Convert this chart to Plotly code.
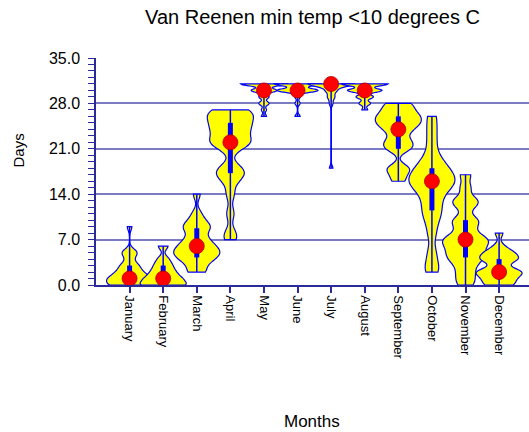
import numpy as np
import plotly.graph_objects as go

months = ["January", "February", "March", "April", "May", "June", "July",
          "August", "September", "October", "November", "December"]

jan = [0, 0, 0, 0, 0, 0, 0, 1, 1, 1, 1, 1, 1, 1, 2, 2, 2, 2, 3, 3, 3, 4, 5, 5, 5, 9]
feb = [0, 0, 0, 0, 0, 0, 0, 0, 1, 1, 1, 1, 1, 1, 2, 2, 2, 2, 3, 3, 3, 4, 4, 6, 6]
mar = [2, 2, 3, 4, 4, 4, 5, 5, 5, 5, 6, 6, 6, 7, 7, 8, 9, 9, 9, 10, 11, 14]
apr = [7, 8, 11, 14, 16, 17, 17, 18, 18, 21, 22, 22, 22, 22, 23, 24, 24, 24, 25, 25,
       26, 26, 26, 27, 27, 27]
may = [26, 27, 28, 28, 29, 29, 30, 30, 30, 30, 30, 31, 31, 31, 31, 31, 31, 31, 31, 31]
jun = [26, 28, 29, 30, 30, 30, 30, 30, 30, 30, 30, 31, 31, 31, 31, 31, 31, 31, 31, 31]
jul = [18, 28, 29, 29, 30, 30, 30, 31, 31, 31, 31, 31, 31, 31, 31, 31, 31, 31, 31, 31]
aug = [27, 28, 28, 29, 29, 29, 30, 30, 30, 30, 30, 30, 31, 31, 31, 31, 31, 31, 31, 31]
sep = [16, 17, 18, 18, 21, 21, 22, 22, 23, 24, 24, 25, 25, 25, 26, 26, 26, 27, 27, 28, 28]
oct_ = [2, 3, 5, 8, 10, 11, 12, 13, 14, 15, 15, 16, 16, 16, 17, 17, 18, 18, 19, 20, 22, 24, 26]
nov = [0, 1, 2, 3, 4, 4, 5, 5, 6, 6, 7, 7, 7, 8, 9, 10, 10, 12, 13, 13, 15, 17]
dec = [0, 0, 0, 1, 1, 1, 2, 2, 2, 2, 2, 3, 4, 4, 4, 4, 5, 5, 5, 6, 8]

values = [jan, feb, mar, apr, may, jun, jul, aug, sep, oct_, nov, dec]
bandwidths = [0.6, 0.55, 0.8, 1.0, 0.3, 0.3, 0.4, 0.3, 0.7, 1.2, 0.8, 0.6]

y_ticks = [0, 7, 14, 21, 28, 35]

NAVY = "#2a2a9a"
GRID = "#7b7bc4"

fig = go.Figure()

for m, vals, bw in zip(months, values, bandwidths):
    fig.add_trace(go.Violin(
        x=[m] * len(vals), y=vals, width=1.37, bandwidth=bw,
        spanmode="hard", points=False, scalemode="width",
        fillcolor="#ffff00", line=dict(color="#0000ff", width=1.2),
        opacity=1, box_visible=False, meanline_visible=False,
        showlegend=False, hoverinfo="skip"))

# whiskers (min to max), interquartile bars and medians
wx, wy, bx, by = [], [], [], []
med = []
for m, vals in zip(months, values):
    a = np.array(vals, dtype=float)
    wx += [m, m, None]
    wy += [a.min(), a.max(), None]
    q1, q2, q3 = np.percentile(a, [25, 50, 75])
    bx += [m, m, None]
    by += [q1, q3, None]
    med.append(q2)

fig.add_trace(go.Scatter(x=wx, y=wy, mode="lines",
                         line=dict(color="#0000ff", width=1.5),
                         showlegend=False, hoverinfo="skip"))
fig.add_trace(go.Scatter(x=bx, y=by, mode="lines",
                         line=dict(color="#0000ff", width=5),
                         showlegend=False, hoverinfo="skip"))
fig.add_trace(go.Scatter(x=months, y=med, mode="markers",
                         marker=dict(color="#ff0000", size=15,
                                     line=dict(color="#b00000", width=0.8)),
                         showlegend=False, hoverinfo="skip"))

fig.add_hline(y=21, line=dict(color="#1a1a80", width=1.5), layer="below")

fig.update_layout(
    width=529, height=432,
    margin=dict(l=96, r=0, t=58, b=147),
    paper_bgcolor="white", plot_bgcolor="white",
    violinmode="overlay",
    font=dict(family="Liberation Sans, Arial", color="black"),
    title=dict(text="Van Reenen min temp <10 degrees C", x=0.5, xref="paper",
               y=1 - 17 / 432, yref="container", yanchor="middle",
               xanchor="center", font=dict(size=20, color="black")),
    xaxis=dict(type="category", categoryorder="array", categoryarray=months,
               range=[-1, 11.89], showline=True, linecolor=NAVY, linewidth=1.5,
               ticks="outside", ticklen=6, tickcolor=NAVY, tickwidth=1.5,
               tickangle=90, tickfont=dict(size=13, color="black"),
               showgrid=False, zeroline=False),
    yaxis=dict(range=[0, 35], tickvals=y_ticks, tickformat=".1f",
               showline=True, linecolor=NAVY, linewidth=1.5,
               ticks="outside", ticklen=6, tickcolor=NAVY, tickwidth=1.2,
               tickfont=dict(size=16, color="black"), ticklabelstandoff=5,
               showgrid=True, gridcolor=GRID, gridwidth=1.5, zeroline=False,
               minor=dict(dtick=1, ticks="outside", ticklen=6, tickcolor=NAVY,
                          tickwidth=1.2, showgrid=False)),
    annotations=[
        dict(text="Days", xref="paper", yref="paper", x=(17.5 - 96) / 433,
             y=(285 - 151) / 227, showarrow=False, textangle=-90,
             font=dict(size=15, color="black"), xanchor="center", yanchor="middle"),
        dict(text="Months", xref="paper", yref="paper", x=(312 - 96) / 433,
             y=(285 - 421) / 227, showarrow=False,
             font=dict(size=17, color="black"), xanchor="center", yanchor="middle"),
    ],
)

fig.write_html("out.html")
